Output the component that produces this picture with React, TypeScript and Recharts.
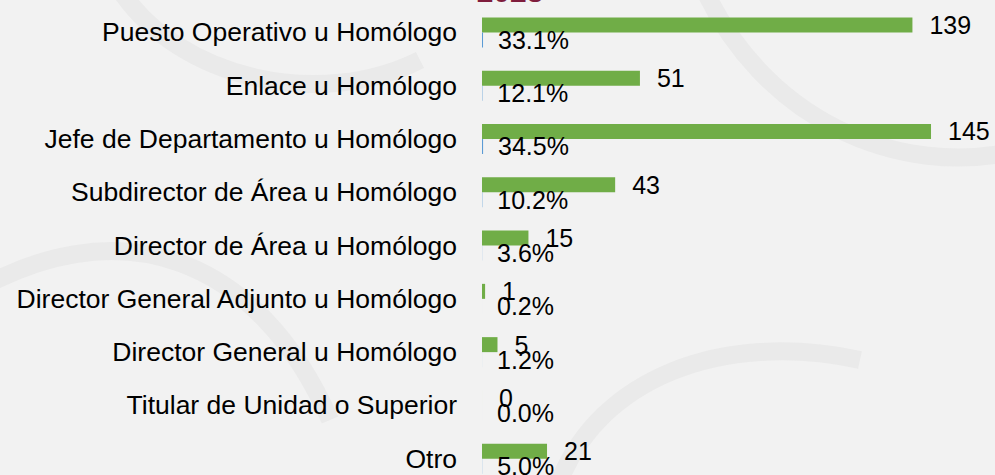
import { BarChart, Bar, XAxis, YAxis, LabelList } from "recharts";

const categories = [
  "Puesto Operativo u Homólogo",
  "Enlace u Homólogo",
  "Jefe de Departamento u Homólogo",
  "Subdirector de Área u Homólogo",
  "Director de Área u Homólogo",
  "Director General Adjunto u Homólogo",
  "Director General u Homólogo",
  "Titular de Unidad o Superior",
  "Otro",
];
const counts = [139, 51, 145, 43, 15, 1, 5, 0, 21];
const shares = [0.331, 0.121, 0.345, 0.102, 0.036, 0.002, 0.012, 0.0, 0.05];

const GREEN = "#70ad47";
const BLUE = "#5b9bd5";
const FONT = '"Liberation Sans", Arial, sans-serif';

const data = categories.map((name, i) => ({
  name,
  count: counts[i],
  share: shares[i],
}));

const fmtPct = (v: unknown) => `${(Number(v) * 100).toFixed(1)}%`;

export default function App() {
  return (
    <div
      style={{
        position: "absolute",
        left: 0,
        top: 0,
        width: 995,
        height: 475,
        overflow: "hidden",
        background: "#f2f2f2",
        fontFamily: FONT,
      }}
    >
      {/* faint watermark swirls */}
      <svg width={995} height={475} style={{ position: "absolute", left: 0, top: 0 }}>
        <g fill="none" stroke="#eaeaea" strokeWidth={18}>
          <path d="M -40 300 C 120 200, 260 260, 330 420" />
          <path d="M 700 -20 C 760 120, 900 180, 1020 150" />
          <path d="M 560 480 C 600 380, 720 330, 860 360" />
          <path d="M 120 -10 C 180 80, 320 110, 420 60" />
        </g>
      </svg>
      <svg width={995} height={20} style={{ position: "absolute", left: 0, top: 0 }}>
        <text
          x={510}
          y={2}
          textAnchor="middle"
          fontSize={30}
          fontWeight="bold"
          fill="#7f1d3d"
          fontFamily={FONT}
        >
          2023
        </text>
      </svg>
      <div style={{ position: "absolute", left: 0, top: 0 }}>
        <BarChart
          width={995}
          height={485}
          data={data}
          layout="vertical"
          margin={{ top: 5.4, right: 48.5, bottom: 0, left: 0 }}
          barSize={15}
          barGap={0}
        >
          <XAxis type="number" domain={[0, 150]} hide />
          <YAxis
            type="category"
            dataKey="name"
            width={482}
            axisLine={false}
            tickLine={false}
            tickMargin={19}
            interval={0}
            tick={{ fontSize: 26.5, fill: "#000", fontFamily: FONT }}
          />
          <Bar dataKey="count" fill={GREEN} minPointSize={0.01} isAnimationActive={false}>
            <LabelList
              dataKey="count"
              position="right"
              offset={17}
              fontSize={25}
              fill="#000"
              fontFamily={FONT}
            />
          </Bar>
          <Bar dataKey="share" fill={BLUE} minPointSize={0.01} isAnimationActive={false}>
            <LabelList
              dataKey="share"
              position="right"
              offset={15}
              fontSize={25}
              fill="#000"
              fontFamily={FONT}
              formatter={fmtPct}
            />
          </Bar>
        </BarChart>
      </div>
    </div>
  );
}
